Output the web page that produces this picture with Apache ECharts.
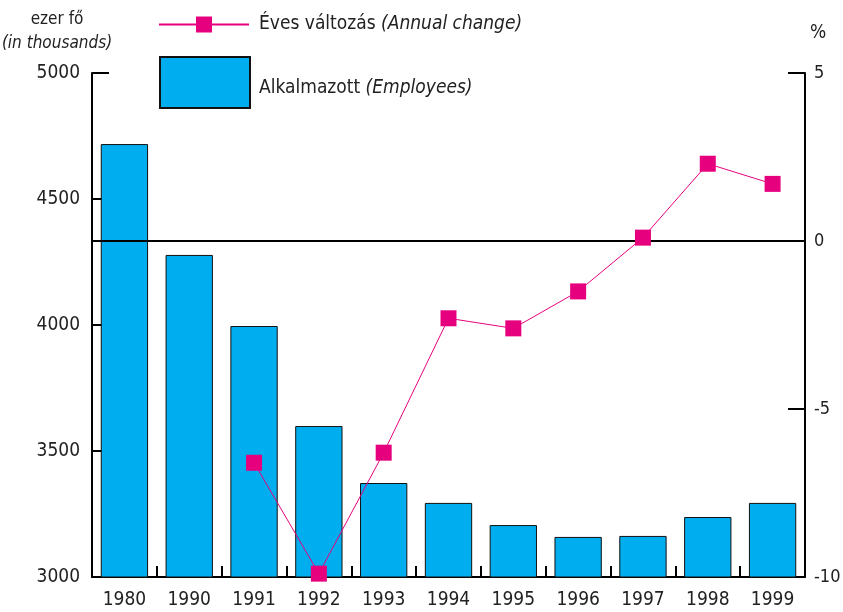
<!DOCTYPE html>
<html>
<head>
<meta charset="utf-8">
<script src="https://cdn.jsdelivr.net/npm/echarts@6/dist/echarts.min.js"></script>
<style>
  html, body { margin: 0; padding: 0; background: #fff; }
  #container { width: 843px; height: 612px; }
</style>
</head>
<body>
<div id="container"></div>
<script>
  // évek / years
  var years = ['1980', '1990', '1991', '1992', '1993', '1994', '1995', '1996', '1997', '1998', '1999'];
  // Alkalmazott (ezer fő)
  var employees = [4718, 4278, 3996, 3599, 3373, 3294, 3206, 3159, 3163, 3238, 3294];
  // Éves változás (%)
  var annualChange = [null, null, -6.6, -9.9, -6.3, -2.3, -2.6, -1.5, 0.1, 2.3, 1.7];

  var leftTicks = { min: 3000, max: 5000, interval: 500 };
  var rightTicks = { min: -10, max: 5, interval: 5 };

  var font = '"DejaVu Sans Condensed", "Liberation Sans Narrow", sans-serif';
  var pink = '#e6007e';
  var cyan = '#00aeef';

  var myChart = echarts.init(document.getElementById('container'));
  var option = {
    animation: false,
    textStyle: { fontFamily: font },
    grid: { left: 92, right: 38, top: 73, bottom: 35, outerBoundsMode: 'none', containLabel: false },
    legend: [{
      data: ['line'],
      left: 158, top: 15,
      padding: 0,
      itemWidth: 90, itemHeight: 20,
      itemGap: 0,
      formatter: function () { return 'Éves változás {i|(Annual change)}'; },
      textStyle: {
        fontFamily: font, fontSize: 19, color: '#222', padding: [0, 0, 0, 5],
        rich: { i: { fontFamily: font, fontSize: 19, fontStyle: 'italic', color: '#222' } }
      }
    }, {
      data: [{ name: 'bar', icon: 'rect' }],
      left: 159, top: 56,
      padding: 0,
      itemWidth: 90, itemHeight: 51,
      formatter: function () { return 'Alkalmazott {i|(Employees)}'; },
      textStyle: {
        fontFamily: font, fontSize: 19, color: '#222', padding: [12, 0, 0, 4],
        rich: { i: { fontFamily: font, fontSize: 19, fontStyle: 'italic', color: '#222' } }
      }
    }],
    graphic: [
      { type: 'text', x: 57, y: 11, style: { text: 'ezer fő', font: '17px ' + font, fill: '#222', textAlign: 'center' } },
      { type: 'text', x: 57, y: 35, style: { text: '(in thousands)', font: 'italic 17px ' + font, fill: '#222', textAlign: 'center' } },
      { type: 'text', x: 818, y: 24, style: { text: '%', font: '19px ' + font, fill: '#222', textAlign: 'center' } }
    ],
    xAxis: {
      type: 'category',
      data: years,
      axisLine: { onZero: false, lineStyle: { color: '#000', width: 2 } },
      axisTick: { show: true, inside: true, length: 11, alignWithLabel: false, lineStyle: { color: '#000', width: 2 } },
      axisLabel: { color: '#222', fontSize: 19, margin: 14, fontFamily: font }
    },
    yAxis: [{
      type: 'value',
      min: leftTicks.min, max: leftTicks.max, interval: leftTicks.interval,
      axisLine: { show: true, lineStyle: { color: '#000', width: 2 } },
      axisTick: { show: true, inside: true, length: 17, lineStyle: { color: '#000', width: 2 } },
      axisLabel: { color: '#222', fontSize: 19, margin: 12, fontFamily: font, formatter: function (v) { return String(v); } },
      splitLine: { show: false }
    }, {
      type: 'value',
      min: rightTicks.min, max: rightTicks.max, interval: rightTicks.interval,
      axisLine: { show: true, lineStyle: { color: '#000', width: 2 } },
      axisTick: { show: true, inside: true, length: 17, lineStyle: { color: '#000', width: 2 } },
      axisLabel: { color: '#222', fontSize: 18, margin: 9, fontFamily: font },
      splitLine: { show: false }
    }],
    series: [{
      name: 'bar',
      type: 'bar',
      yAxisIndex: 0,
      data: employees,
      barCategoryGap: '27%',
      itemStyle: { color: cyan, borderColor: '#111', borderWidth: 1 }
    }, {
      name: 'line',
      type: 'line',
      yAxisIndex: 1,
      data: annualChange,
      symbol: 'rect',
      symbolSize: 16,
      lineStyle: { color: pink, width: 1 },
      itemStyle: { color: pink },
      z: 5,
      markLine: {
        silent: true,
        symbol: 'none',
        label: { show: false },
        lineStyle: { color: '#000', width: 2, type: 'solid' },
        data: [{ yAxis: 0 }],
        z: 4
      }
    }]
  };
  myChart.setOption(option);
</script>
</body>
</html>
